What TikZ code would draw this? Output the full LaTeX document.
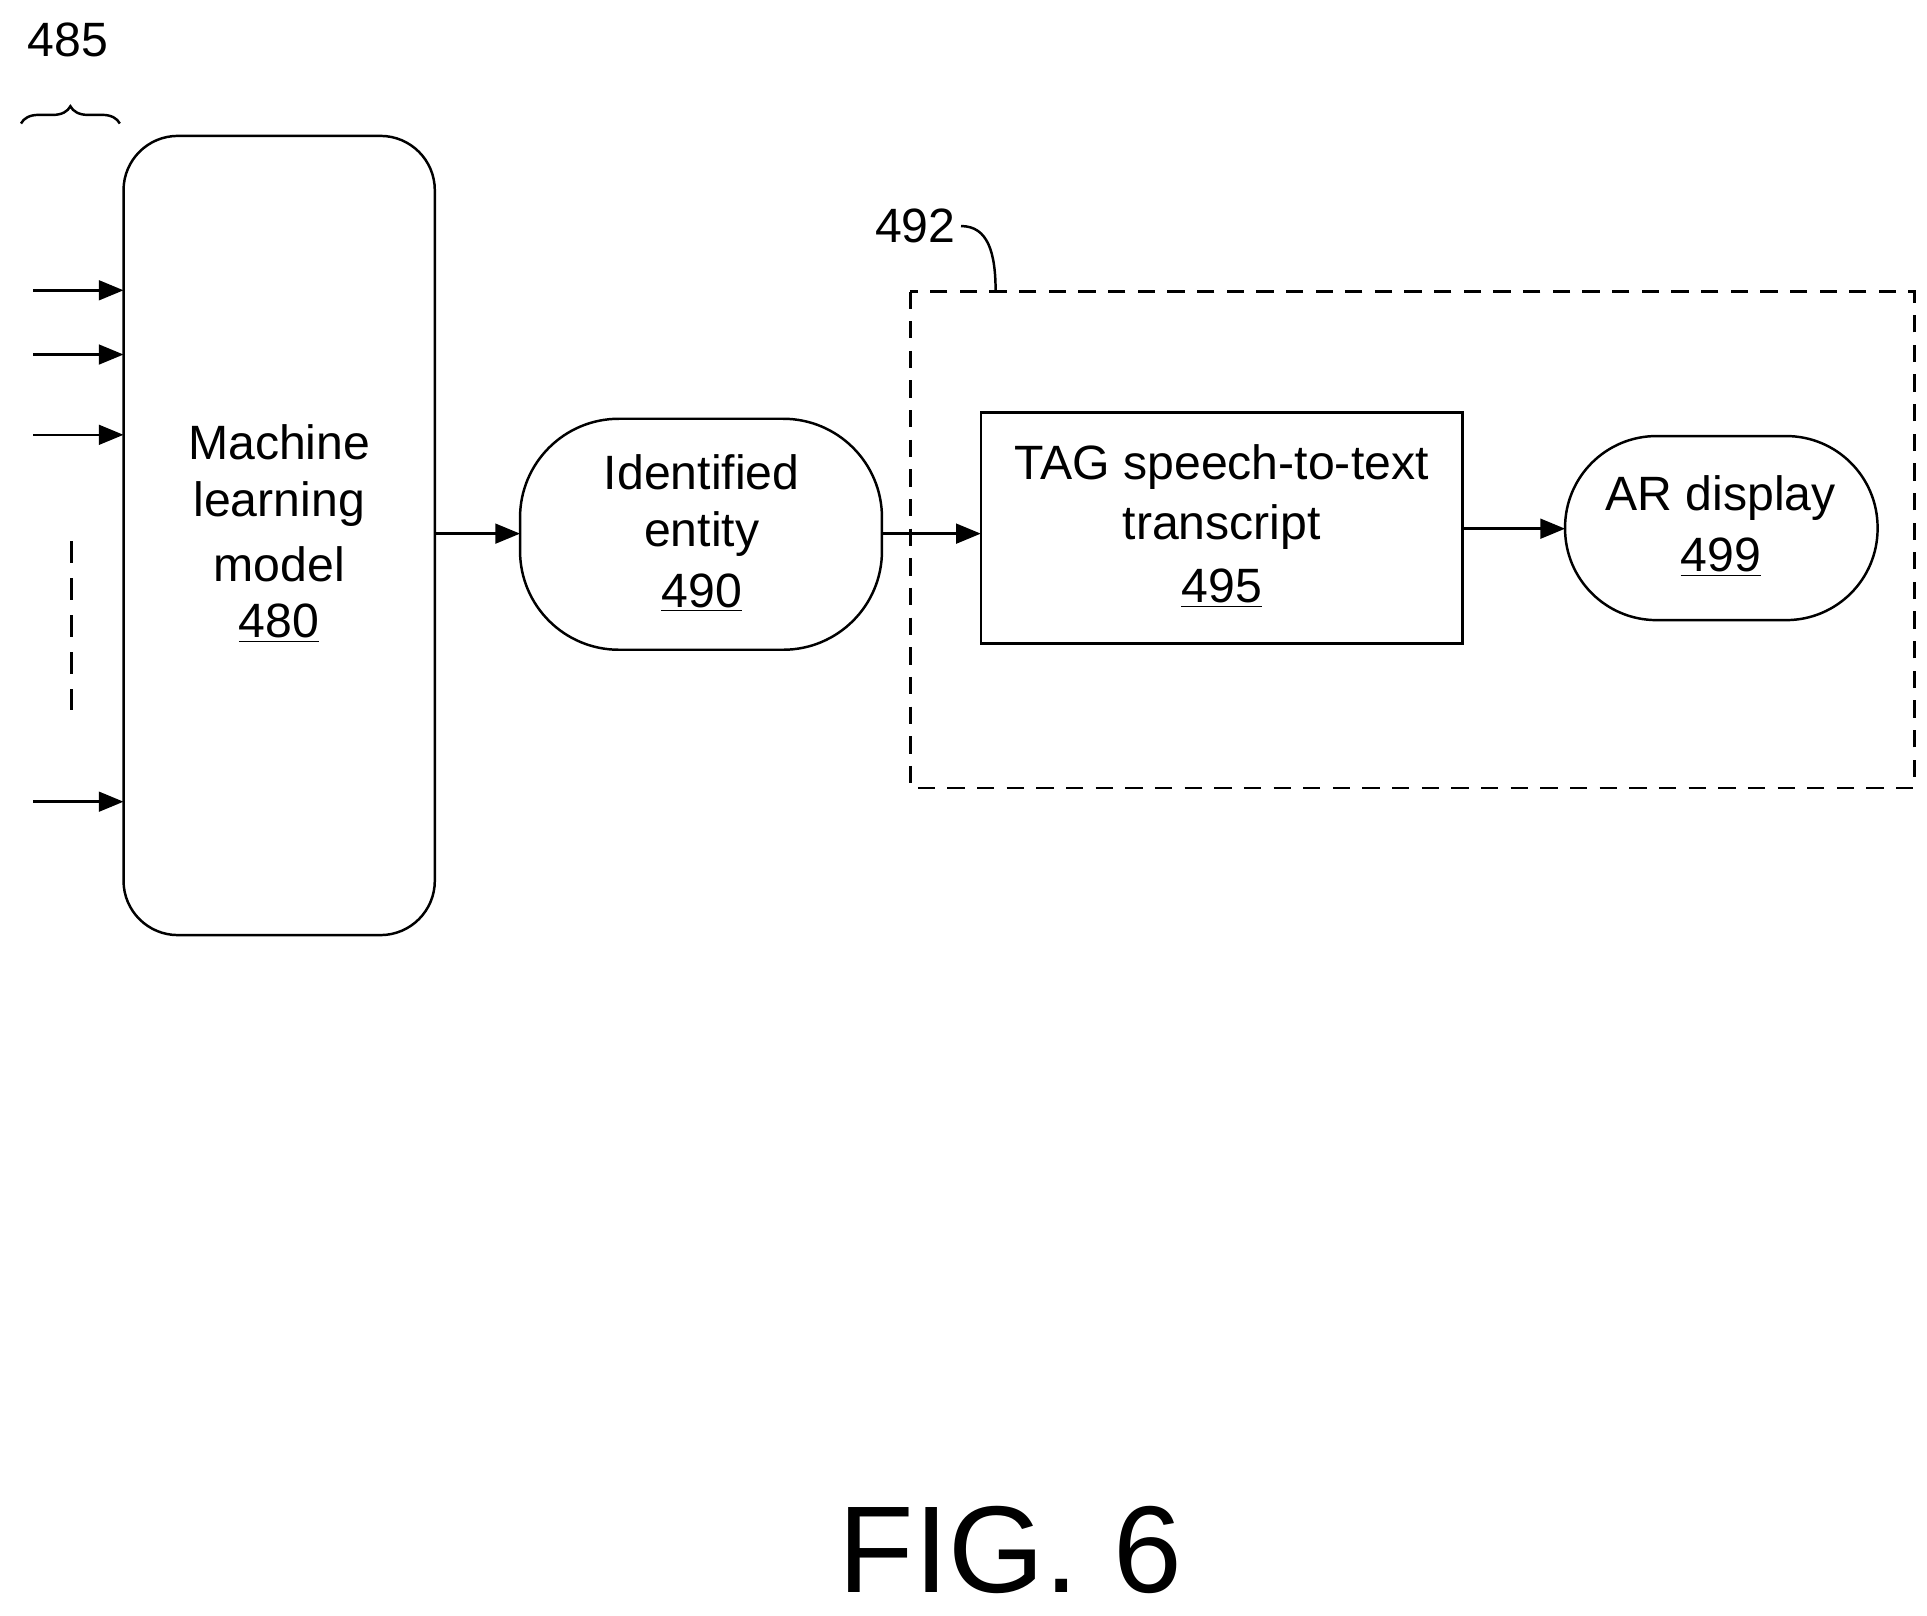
\documentclass[tikz,border=0pt]{standalone}
\usepackage{fontspec}
\setmainfont{Liberation Sans}
\usetikzlibrary{arrows.meta,decorations.pathreplacing}
\begin{document}
\begin{tikzpicture}[x=0.5pt,y=-0.5pt,line width=1pt,
  arr/.style={-{Triangle[length=10pt,width=8pt]}},
  txt/.style={font=\fontsize{19.5}{24}\selectfont,inner sep=0pt}]
\useasboundingbox (0,0) rectangle (1560,1308);
\draw[rounded corners=22pt] (100,110) rectangle (352,757);
\node[txt] (ml1) at (226,358) {Machine};
\node[txt] (ml2) at (226,408) {learning};
\node[txt] (ml3) at (226,457) {model};
\node[txt] (ml4) at (226,505) {\underline{480}};
\foreach \y/\n in {235/a,287/b,352/c,649/d}{
  \coordinate (s\n) at (27,\y); \coordinate (e\n) at (100,\y);
  \draw[arr] (s\n) -- (e\n);}
\draw[dash pattern=on 9pt off 6pt] (58,438) -- (58,575);
\draw[decorate,decoration={brace,amplitude=7pt}] (17,100) -- (97,100);
\node[txt] (l485) at (55,32) {485};
% identified entity
\draw[rounded corners=40pt] (421,339) rectangle (714,526);
\node[txt] (ie1) at (568,382) {Identified};
\node[txt] (ie2) at (568,432) {entity};
\node[txt] (ie3) at (568,480) {\underline{490}};
\draw[arr] (352,432) -- (421,432);
% dashed group
\draw[dash pattern=on 7pt off 5pt] (737,236) rectangle (1550,638);
\node[txt] (l492) at (741,183) {492};
\draw (778,183) .. controls (800,183) and (806,205) .. (806,236);
% TAG
\draw (794,334) rectangle (1184,521);
\node[txt] (t1) at (989,378) {TAG speech-to-text};
\node[txt] (t2) at (989,427) {transcript};
\node[txt] (t3) at (989,476) {\underline{495}};
\draw[arr] (714,432) -- (794,432);
% AR
\draw[rounded corners=37pt] (1267,353) rectangle (1520,502);
\node[txt] (ar1) at (1393,403) {AR display};
\node[txt] (ar2) at (1393,451) {\underline{499}};
\draw[arr] (1184,428) -- (1267,428);
\node[font=\fontsize{50}{60}\selectfont,inner sep=0pt] (fig) at (818,1255) {FIG. 6};
\end{tikzpicture}
\end{document}
